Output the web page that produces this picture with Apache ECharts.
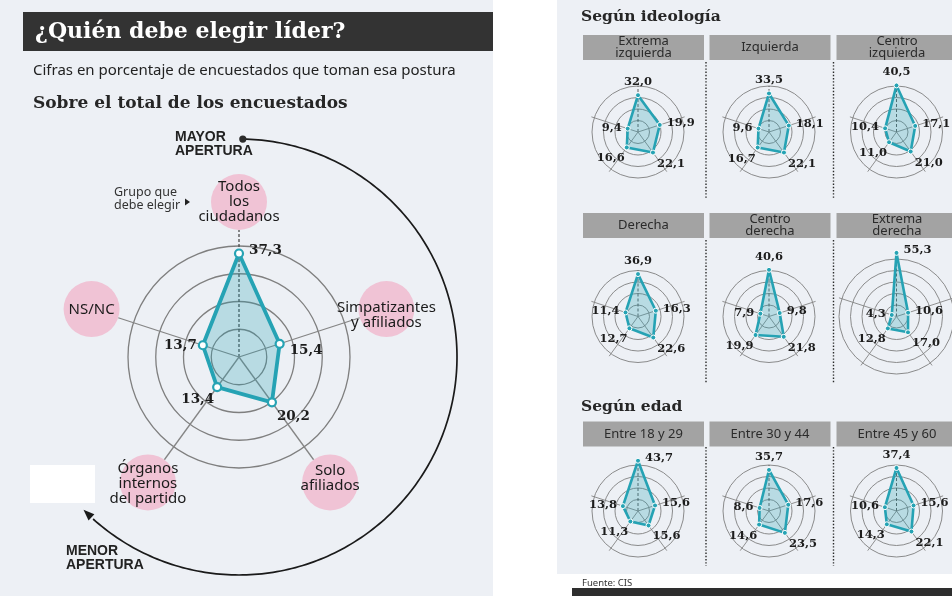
<!DOCTYPE html>
<html lang="es">
<head>
<meta charset="utf-8">
<title>¿Quién debe elegir líder?</title>
<script src="https://cdn.jsdelivr.net/npm/echarts@6.0.0/dist/echarts.min.js"></script>
<style>
  html, body { margin: 0; padding: 0; background: #ffffff; }
  #chart { width: 952px; height: 596px; }
</style>
</head>
<body>
<div id="chart"></div>
<script>
// Radar axes, listed clockwise starting from the top
const axisNames = ['Todos\nlos\nciudadanos', 'Simpatizantes\ny afiliados', 'Solo\nafiliados', 'Órganos\ninternos\ndel partido', 'NS/NC'];

// Sobre el total de los encuestados (%)
const totalValues = [37.3, 15.4, 20.2, 13.4, 13.7];

// Según ideología (%)
const ideologyGroups = ['Extrema\nizquierda', 'Izquierda', 'Centro\nizquierda', 'Derecha', 'Centro\nderecha', 'Extrema\nderecha'];
const ideologyValues = [
  [32.0, 19.9, 22.1, 16.6, 9.4],
  [33.5, 18.1, 22.1, 16.7, 9.6],
  [40.5, 17.1, 21.0, 11.0, 10.4],
  [36.9, 16.3, 22.6, 12.7, 11.4],
  [40.6, 9.8, 21.8, 19.9, 7.9],
  [55.3, 10.6, 17.0, 12.8, 4.3]
];

// Según edad (%)
const ageGroups = ['Entre 18 y 29', 'Entre 30 y 44', 'Entre 45 y 60'];
const ageValues = [
  [43.7, 15.6, 15.6, 11.3, 13.8],
  [35.7, 17.6, 23.5, 14.6, 8.6],
  [37.4, 15.6, 22.1, 14.3, 10.6]
];

// ---------- styling / layout ----------
const TEAL = '#26a3b4';
const FILL = 'rgba(38,163,180,0.38)';
const RING = '#7f7f7f';
const SANS = '"Noto Sans", Lato, sans-serif';
const SERIF = '"DejaVu Serif", serif';
const BOLDSANS = '"Liberation Sans", Arial, sans-serif';
const N = axisNames.length;
const RING_STEP = 10;
const angleOf = k => k * 360 / N;                 // degrees clockwise from the top
const fmt = v => v.toFixed(1).replace('.', ',');

const BIG_RADIUS = 111;                           // px for the 40 % ring
const SMALL_UNIT = 1.15;                          // px per percentage point
const colX = [638, 769, 896.5];
const rowY = [132, 316.5, 511];
const boxX = [583, 709.5, 836.5];
const boxY = [35, 213, 421.5];

const bigLabelPos = [
  { align: 'left', dx: 10, dy: -3 },
  { align: 'left', dx: 10, dy: 7 },
  { align: 'left', dx: 5, dy: 14 },
  { align: 'right', dx: -3, dy: 12 },
  { align: 'right', dx: -6, dy: 0 }
];
const smallLabelPos = [
  { align: 'center', dx: 0, dy: -13 },
  { align: 'left', dx: 7, dy: -2 },
  { align: 'left', dx: 4, dy: 11 },
  { align: 'right', dx: -2, dy: 11 },
  { align: 'right', dx: -6, dy: -1 }
];
const topRightPos = { align: 'left', dx: 7, dy: -3 };
const nameShift = [0, 6, -4, 1, 1];

// one entry per radar drawn
const panels = [{ values: totalValues, center: [239, 357], max: 40, radius: BIG_RADIUS, big: true }];
function addSmall(vals, col, row) {
  const rings = Math.max(4, Math.floor(Math.max(...vals) / RING_STEP));
  const max = rings * RING_STEP;
  panels.push({
    values: vals, center: [colX[col], rowY[row]], max: max, radius: max * SMALL_UNIT,
    big: false, topRight: vals[0] > 43
  });
}
ideologyValues.forEach((v, i) => addSmall(v, i % 3, Math.floor(i / 3)));
ageValues.forEach((v, i) => addSmall(v, i, 2));

// ECharts lays radar indicators out counter-clockwise
const ccwOrder = [...Array(N).keys()].map(j => (N - j) % N);

const radar = [], polar = [], angleAxis = [], radiusAxis = [], series = [];

panels.forEach((p, i) => {
  radar.push({
    center: p.center, radius: p.radius, startAngle: 90, shape: 'circle',
    indicator: ccwOrder.map(() => ({ name: '', min: 0, max: p.max })),
    axisName: { show: false },
    axisLine: { show: false }, axisTick: { show: false }, axisLabel: { show: false },
    splitArea: { show: false }, splitLine: { show: false }
  });
  polar.push({ center: p.center, radius: p.radius });
  angleAxis.push({ polarIndex: i, type: 'value', min: 0, max: 360, startAngle: 90, clockwise: true, show: false });
  radiusAxis.push({ polarIndex: i, type: 'value', min: 0, max: p.max, show: false });

  // concentric rings every 10 points
  const ringVals = [];
  for (let v = RING_STEP; v <= p.max; v += RING_STEP) ringVals.push([v, 0]);
  series.push({
    type: 'custom', coordinateSystem: 'polar', polarIndex: i, z: 0, silent: true,
    data: ringVals,
    renderItem: (params, api) => {
      const c = api.coord([0, 0]);
      const e = api.coord([api.value(0), 0]);
      return {
        type: 'circle',
        shape: { cx: c[0], cy: c[1], r: Math.hypot(e[0] - c[0], e[1] - c[1]) },
        style: { fill: null, stroke: RING, lineWidth: p.big ? 1.3 : 0.9 }
      };
    }
  });

  // spokes
  const spokeLen = p.big ? p.max * 127 / BIG_RADIUS : p.max + 3 / SMALL_UNIT;
  series.push({
    type: 'custom', coordinateSystem: 'polar', polarIndex: i, z: 1, silent: true,
    data: p.values.map((v, k) => [k === 0 && !p.big ? p.max : spokeLen, angleOf(k), k]),
    renderItem: (params, api) => {
      const a = api.value(1);
      const p0 = api.coord([0, a]);
      const p1 = api.coord([api.value(0), a]);
      const top = api.value(2) === 0;
      return {
        type: 'line',
        shape: { x1: p0[0], y1: p0[1], x2: p1[0], y2: p1[1] },
        style: {
          stroke: top ? '#4d4d4d' : '#858585',
          lineWidth: p.big ? 1.3 : 0.9,
          lineDash: top ? [3, 2] : null
        }
      };
    }
  });

  // data polygon
  series.push({
    type: 'radar', radarIndex: i, z: 3, silent: true,
    symbol: 'circle', symbolSize: p.big ? 8 : 5,
    lineStyle: { color: TEAL, width: p.big ? 3.8 : 2.6 },
    areaStyle: { color: FILL },
    itemStyle: p.big
      ? { color: '#ffffff', borderColor: TEAL, borderWidth: 2.2 }
      : { color: TEAL, borderColor: '#ffffff', borderWidth: 1 },
    data: [{ value: ccwOrder.map(k => p.values[k]) }]
  });

  // value labels
  series.push({
    type: 'custom', coordinateSystem: 'polar', polarIndex: i, z: 5, silent: true,
    data: p.values.map((v, k) => [v, angleOf(k), k]),
    renderItem: (params, api) => {
      const k = api.value(2);
      const pt = api.coord([api.value(0), api.value(1)]);
      let pos = (p.big ? bigLabelPos : smallLabelPos)[k];
      if (k === 0 && p.topRight) pos = topRightPos;
      return {
        type: 'text', x: pt[0] + pos.dx, y: pt[1] + pos.dy,
        style: {
          text: fmt(api.value(0)), fill: '#1c1c1c',
          font: 'bold ' + (p.big ? 13.5 : 11.5) + 'px ' + SERIF,
          textAlign: pos.align, align: pos.align,
          textVerticalAlign: 'middle', verticalAlign: 'middle'
        }
      };
    }
  });
});

// group names in pink discs around the main radar
const CIRCLE_DIST = 155 / BIG_RADIUS * 40;
series.push({
  type: 'custom', coordinateSystem: 'polar', polarIndex: 0, z: 2, silent: true,
  data: axisNames.map((n, k) => [CIRCLE_DIST, angleOf(k), k]),
  renderItem: (params, api) => {
    const k = api.value(2);
    const pt = api.coord([api.value(0), api.value(1)]);
    return {
      type: 'group',
      children: [
        { type: 'circle', shape: { cx: pt[0], cy: pt[1], r: 28 }, style: { fill: '#f0c3d5' } },
        {
          type: 'text', x: pt[0], y: pt[1] + nameShift[k],
          style: {
            text: axisNames[k], fill: '#1a1a1a', font: '15px ' + SANS, lineHeight: 15,
            textAlign: 'center', align: 'center', textVerticalAlign: 'middle', verticalAlign: 'middle'
          }
        }
      ]
    };
  }
});

// "mayor → menor apertura" arrow wrapping the main radar
const ARC_RADIUS = 218 / BIG_RADIUS * 40;
series.push({
  type: 'custom', coordinateSystem: 'polar', polarIndex: 0, z: 2, silent: true,
  data: [[ARC_RADIUS, 1, 222]],
  renderItem: (params, api) => {
    const r = api.value(0), a0 = api.value(1), a1 = api.value(2);
    const pts = [];
    for (let a = a0; a <= a1; a += 1) pts.push(api.coord([r, a]));
    const tip = api.coord([r, a1 + 3.5]);
    const back = pts[pts.length - 1];
    const ang = Math.atan2(tip[1] - back[1], tip[0] - back[0]);
    const L = 11, W = 4.2;
    const bx = tip[0] - Math.cos(ang) * L, by = tip[1] - Math.sin(ang) * L;
    return {
      type: 'group',
      children: [
        { type: 'polyline', shape: { points: pts }, style: { stroke: '#1a1a1a', lineWidth: 1.7, fill: null } },
        { type: 'circle', shape: { cx: pts[0][0], cy: pts[0][1], r: 3.6 }, style: { fill: '#2b2b2b' } },
        {
          type: 'polygon',
          shape: { points: [tip, [bx - Math.sin(ang) * W, by + Math.cos(ang) * W], [bx + Math.sin(ang) * W, by - Math.cos(ang) * W]] },
          style: { fill: '#1a1a1a' }
        }
      ]
    };
  }
});

// ---------- static page furniture ----------
const txt = (x, y, text, font, extra) => Object.assign({
  type: 'text', x: x, y: y, z: 10,
  style: Object.assign({ text: text, font: font, fill: '#222222', textVerticalAlign: 'middle', verticalAlign: 'middle' }, extra || {})
});

const graphic = [
  { type: 'rect', z: -100, shape: { x: 0, y: 0, width: 493, height: 596 }, style: { fill: '#edf0f5' } },
  { type: 'rect', z: -100, shape: { x: 557, y: 0, width: 395, height: 574 }, style: { fill: '#edf0f5' } },
  { type: 'rect', z: -90, shape: { x: 30, y: 465, width: 65, height: 38 }, style: { fill: '#ffffff' } },

  { type: 'rect', z: 5, shape: { x: 23, y: 12, width: 470, height: 39 }, style: { fill: '#333333' } },
  txt(35, 32, '¿Quién debe elegir líder?', 'bold 22px ' + SERIF, { fill: '#ffffff' }),
  txt(33, 71, 'Cifras en porcentaje de encuestados que toman esa postura', '15px ' + SANS),
  txt(33, 104, 'Sobre el total de los encuestados', 'bold 17px ' + SERIF, { fill: '#262626' }),

  txt(175, 144, 'MAYOR\nAPERTURA', 'bold 14px ' + BOLDSANS, { lineHeight: 14 }),
  txt(66, 558, 'MENOR\nAPERTURA', 'bold 14px ' + BOLDSANS, { lineHeight: 14 }),
  txt(114, 199, 'Grupo que\ndebe elegir', '12.5px ' + SANS, { lineHeight: 12.5, fill: '#333333' }),
  { type: 'polygon', z: 10, shape: { points: [[185, 198.5], [190, 202], [185, 205.5]] }, style: { fill: '#222222' } },

  txt(581, 17, 'Según ideología', 'bold 15.5px ' + SERIF, { fill: '#262626' }),
  txt(581, 407, 'Según edad', 'bold 15.5px ' + SERIF, { fill: '#262626' }),
  txt(582, 583, 'Fuente: CIS', '9.5px ' + SANS, { fill: '#333333' }),
  { type: 'rect', z: 5, shape: { x: 572, y: 588, width: 380, height: 8 }, style: { fill: '#2e2e2e' } }
];

// group headers and dotted dividers
function header(label, col, row) {
  graphic.push({ type: 'rect', z: 5, shape: { x: boxX[col], y: boxY[row], width: 121, height: 25 }, style: { fill: '#a3a3a3' } });
  graphic.push(txt(boxX[col] + 60.5, boxY[row] + 12.5, label, '13px ' + SANS,
    { lineHeight: 11.5, fill: '#2b2b2b', textAlign: 'center', align: 'center' }));
}
ideologyGroups.forEach((g, i) => header(g, i % 3, Math.floor(i / 3)));
ageGroups.forEach((g, i) => header(g, i, 2));

const dividerRows = [[62, 199], [240, 383], [447, 566]];
[706, 833.5].forEach(x => dividerRows.forEach(r => graphic.push({
  type: 'line', z: 5, shape: { x1: x, y1: r[0], x2: x, y2: r[1] },
  style: { stroke: '#2a2a2a', lineWidth: 1.4, lineDash: [1.4, 1.8] }
})));

const chart = echarts.init(document.getElementById('chart'), null, { renderer: 'canvas' });
chart.setOption({
  animation: false,
  backgroundColor: '#ffffff',
  radar: radar,
  polar: polar,
  angleAxis: angleAxis,
  radiusAxis: radiusAxis,
  series: series,
  graphic: graphic
});
</script>
</body>
</html>
